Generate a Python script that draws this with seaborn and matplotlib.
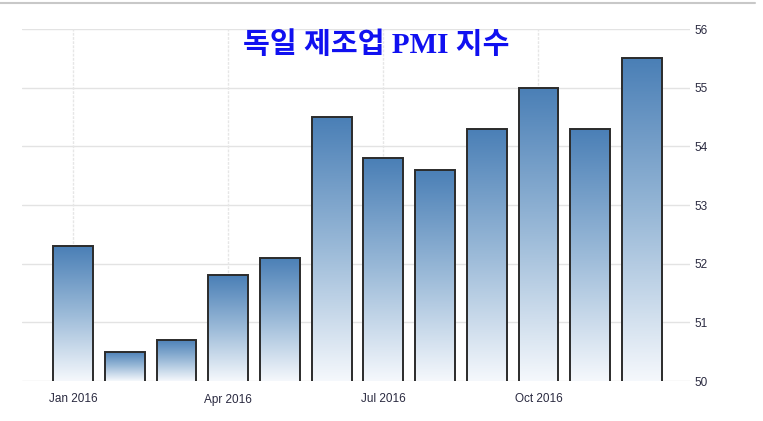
import numpy as np
import pandas as pd
import matplotlib
matplotlib.use("Agg")
import matplotlib.pyplot as plt
from matplotlib.colors import LinearSegmentedColormap
from matplotlib.lines import Line2D
import seaborn as sns

months = ["Jan 2016", "Feb 2016", "Mar 2016", "Apr 2016", "May 2016", "Jun 2016",
          "Jul 2016", "Aug 2016", "Sep 2016", "Oct 2016", "Nov 2016", "Dec 2016"]
pmi = [52.3, 50.5, 50.7, 51.8, 52.1, 54.5, 53.8, 53.6, 54.3, 55.0, 54.3, 55.5]
tick_months = ["Jan 2016", "Apr 2016", "Jul 2016", "Oct 2016"]
y_ticks = [50, 51, 52, 53, 54, 55, 56]
title = "독일 제조업 PMI 지수"

df = pd.DataFrame({"month": months, "pmi": pmi})

sns.set_style("white")
fig = plt.figure(figsize=(7.63, 4.21), dpi=100)
ax = fig.add_axes([22 / 763, 1 - 381 / 421, (690 - 22) / 763, (381 - 29) / 421])

sns.barplot(data=df, x="month", y="pmi", ax=ax, width=0.77, color="white",
            edgecolor="#2b2b2b", linewidth=1.4, zorder=3)

ax.set_ylim(50, 56)
ax.set_xlim(-0.986, 11.93)

# gradient fill for each bar (dark blue at top, almost white at bottom)
cmap = LinearSegmentedColormap.from_list("grad", ["#f5f8fc", "#9bbad8", "#4a7fb6"])
grad = np.linspace(0, 1, 256).reshape(-1, 1)
for bar in ax.patches:
    x0, w = bar.get_x(), bar.get_width()
    h = bar.get_height()
    bar.set_facecolor("none")
    im = ax.imshow(grad, cmap=cmap, aspect="auto", origin="lower",
                   extent=[x0, x0 + w, 50, h], zorder=2)
    im.set_clip_path(bar)

# grid
for y in y_ticks:
    ax.axhline(y, color="#e3e3e3", lw=1, zorder=1)
tick_pos = [months.index(m) for m in tick_months]
for xp in tick_pos:
    ax.axvline(xp, color="#e6e6e6", lw=1, ls=(0, (2, 1)), zorder=1)

for s in ax.spines.values():
    s.set_visible(False)

ax.set_xticks(tick_pos)
ax.set_xticklabels(tick_months, fontsize=8.5, color="#2a2a40", family="Liberation Sans")
ax.tick_params(axis="x", length=5, color="#e3e3e3", pad=4)

ax.yaxis.tick_right()
ax.set_yticks(y_ticks)
ax.set_yticklabels([str(v) for v in y_ticks], fontsize=8.5, color="#2a2a40", family="Liberation Sans")
ax.tick_params(axis="y", length=0, pad=3)
ax.set_xlabel("")
ax.set_ylabel("")

fig.text(376 / 763, 1 - 45 / 421, title, ha="center", va="center", color="#1010f0",
         fontsize=21, fontweight="bold", family=["Liberation Serif", "Noto Sans CJK KR"])

fig.add_artist(Line2D([0, 0.99], [1 - 3 / 421, 1 - 3 / 421], color="#c8c8c8", lw=1.5))

fig.savefig("out.png", dpi=100)
plt.close()
